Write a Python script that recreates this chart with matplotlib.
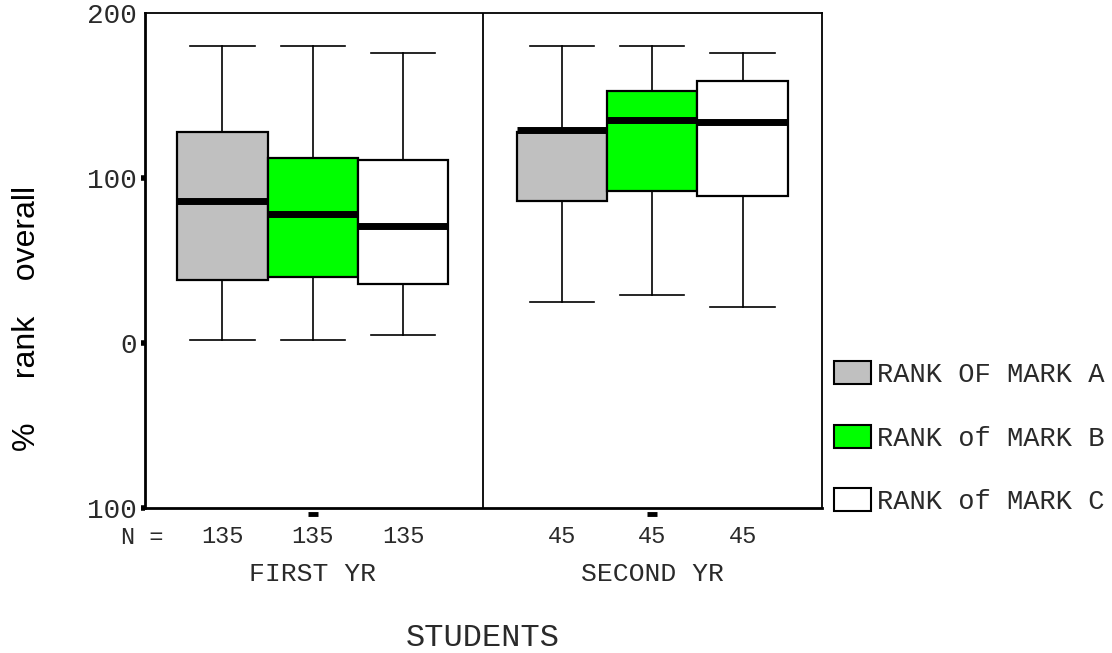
import matplotlib
matplotlib.use("Agg")
import matplotlib.pyplot as plt
from matplotlib.patches import Patch
from matplotlib.transforms import blended_transform_factory

# box statistics (whisker low, Q1, median, Q3, whisker high)
series = ["RANK OF MARK A", "RANK of MARK B", "RANK of MARK C"]
colors = ["#c0c0c0", "#00ff00", "#ffffff"]
groups = ["FIRST YR", "SECOND YR"]
n_counts = [135, 45]

whislo = [[2, 2, 5], [25, 29, 22]]
q1 = [[38, 40, 36], [86, 92, 89]]
med = [[86, 78, 71], [129, 135, 134]]
q3 = [[128, 112, 111], [128, 153, 159]]
whishi = [[180, 180, 176], [180, 180, 176]]

yticks = [-100, 0, 100, 200]
ytick_labels = ["100", "0", "100", "200"]

mono = "Liberation Mono"
txt = "#2a2a2a"
W, H = 1112, 653

fig = plt.figure(figsize=(W / 100, H / 100), dpi=100)
ax = fig.add_axes([145 / W, 1 - 508 / H, (822 - 145) / W, (508 - 13) / H])
tr = blended_transform_factory(ax.transData, ax.transAxes)

group_offset = 3.76
for g in range(len(groups)):
    stats = []
    for s in range(len(series)):
        stats.append(dict(whislo=whislo[g][s], q1=q1[g][s], med=med[g][s],
                          q3=q3[g][s], whishi=whishi[g][s], fliers=[]))
    pos = [g * group_offset + s for s in range(len(series))]
    bp = ax.bxp(stats, positions=pos, widths=1.0, patch_artist=True,
                showfliers=False, whiskerprops=dict(color="black", lw=1.2),
                capprops=dict(color="black", lw=1.2), capwidths=0.71,
                boxprops=dict(edgecolor="black", lw=1.6),
                medianprops=dict(color="black", lw=5, solid_capstyle="butt"))
    for patch, c in zip(bp["boxes"], colors):
        patch.set_facecolor(c)
    # N labels under each box
    for p in pos:
        ax.text(p, -0.058, str(n_counts[g]), transform=tr, ha="center", va="center",
                family=mono, fontsize=17, color=txt)
    ax.text(g * group_offset + 1, -0.133, groups[g], transform=tr, ha="center",
            va="center", family=mono, fontsize=19, color=txt)
    # small dash below the axis at the middle box
    ax.plot([g * group_offset + 1], [-0.012], transform=tr, marker="_",
            markersize=7, mew=3.5, color="black", clip_on=False)

ax.axvline(2.88, color="black", lw=1.3)
ax.set_xlim(-0.858, 6.64)
ax.set_ylim(-100, 200)

ax.set_yticks(yticks)
ax.set_yticklabels(ytick_labels, family=mono, fontsize=20, color=txt)
ax.tick_params(axis="y", length=3, width=4, pad=3)
ax.yaxis.get_major_ticks()[-1].tick1line.set_visible(False)
ax.set_xticks([])

for side in ["left", "bottom"]:
    ax.spines[side].set_linewidth(2)
for side in ["top", "right"]:
    ax.spines[side].set_linewidth(1.3)

fig.text(142 / W, 1 - 537 / H, "N =", ha="center", va="center", family=mono,
         fontsize=17, color=txt)
fig.text(483 / W, 1 - 638 / H, "STUDENTS", ha="center", va="center", family=mono,
         fontsize=23, color=txt)
fig.text(27 / W, 1 - 318 / H, "%     rank    overall", rotation=90, ha="center",
         va="center", family="Liberation Sans", fontsize=23, color="black")

handles = [Patch(facecolor=c, edgecolor="black", lw=1.5) for c in colors]
fig.legend(handles, series, loc="upper left",
           bbox_to_anchor=(834 / W, 1 - 361 / H), frameon=False,
           prop=dict(family=mono, size=19.5), handlelength=1.37, handleheight=0.95,
           handletextpad=0.2, labelspacing=1.35, borderpad=0, borderaxespad=0,
           labelcolor=txt)

fig.savefig("out.png", dpi=100)
